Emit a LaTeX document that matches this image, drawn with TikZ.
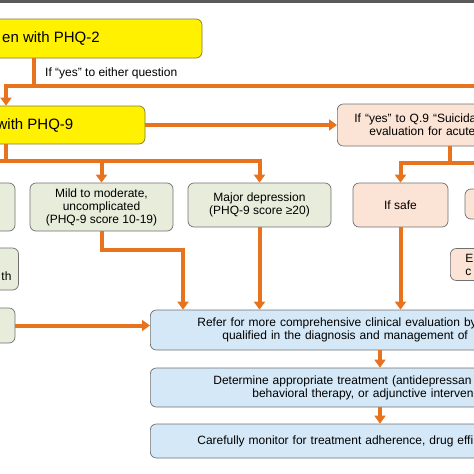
\documentclass[tikz,border=0pt]{standalone}
\usepackage{fontspec}
\setmainfont{Liberation Sans}
\usepackage{xcolor}
\usetikzlibrary{arrows.meta,positioning}

\definecolor{phqorange}{HTML}{E8731E}
\definecolor{phqyellow}{HTML}{FFF100}
\definecolor{phqolive}{HTML}{7D7A3C}
\definecolor{phqgreen}{HTML}{E7EDDA}
\definecolor{phqpink}{HTML}{FBE3D6}
\definecolor{phqblue}{HTML}{D4E8F7}
\definecolor{phqedge}{HTML}{707070}
\definecolor{phqbar}{HTML}{5A5A5A}

\newcommand{\boxfont}{\fontsize{12}{13}\selectfont}
\newcommand{\bigfont}{\fontsize{15}{18}\selectfont}

\begin{document}
\begin{tikzpicture}[
    x=1pt, y=-1pt,
    box/.style={draw=phqedge, line width=0.7pt, rounded corners=6pt, font=\boxfont, inner sep=0pt, align=center},
    yel/.style={box, fill=phqyellow, draw=phqolive, font=\bigfont},
    grn/.style={box, fill=phqgreen},
    pnk/.style={box, fill=phqpink},
    blu/.style={box, fill=phqblue},
    wire/.style={line width=4pt, draw=phqorange},
    conn/.style={wire, -{Triangle[width=11pt,length=8pt]}},
    lbl/.style={font=\boxfont, anchor=west, inner sep=0pt}
]
\useasboundingbox (0,0) rectangle (474,474);
\fill[phqbar] (0,0) rectangle (474,2.5);

% --- Column layout: Left = PHQ screening, Center = severity, Right = Q.9 path ---

% Row 0: PHQ-2 screen
\node[yel, minimum width=302pt, minimum height=39pt] (phqtwo) at (51,38.5) {en with PHQ-2};
\node[lbl] (yeslbl) at (45,73) {If “yes” to either question};

% Row 1: PHQ-9 screen and Q.9 check
\node[yel, minimum width=220pt, minimum height=38pt] (phqnine) at (35,125) {with PHQ-9};
\node[pnk, anchor=west, minimum height=42pt, text width=270pt, align=left, inner xsep=17pt] (suicide) at (337,125)
    {If “yes” to Q.9 “Suicida\\\hspace*{15pt}evaluation for acute};

% Row 2: severity
\node[grn, minimum width=115pt, minimum height=48pt] (lefta) at (-42.5,207) {};
\node[grn, minimum width=143pt, minimum height=48pt] (mild) at (101.5,207)
    {Mild to moderate,\\uncomplicated\\(PHQ-9 score 10-19)};
\node[grn, minimum width=143pt, minimum height=44pt] (major) at (259.5,205)
    {Major depression\\(PHQ-9 score ≥20)};
\node[pnk, minimum width=95pt, minimum height=44pt] (ifsafe) at (400.5,205) {If safe};
\node[pnk, minimum width=100pt, minimum height=30pt] (unsafe) at (515,204) {};

% Row 3
\node[grn, minimum width=115pt, minimum height=42pt, text width=108pt, align=right, inner xsep=7pt] (leftb) at (-42.5,269) {\strut\\th};
\node[pnk, anchor=west, minimum height=32pt, text width=80pt, align=left, inner xsep=15pt] (emerg) at (450,264.5) {E\\c};

% Row 4
\node[grn, minimum width=115pt, minimum height=35pt] (leftc) at (-42.5,325.5) {};

% Rows 5-7: treatment chain
\node[blu, anchor=west, minimum height=40pt, text width=500pt, align=left, inner xsep=47pt] (refer) at (150,330)
    {Refer for more comprehensive clinical evaluation by\\\hspace*{25pt}qualified in the diagnosis and management of};
\node[blu, anchor=west, minimum height=39pt, text width=500pt, align=left, inner xsep=63pt] (determine) at (150,387.5)
    {Determine appropriate treatment (antidepressan\\\hspace*{39pt}behavioral therapy, or adjunctive interven};
\node[blu, anchor=west, minimum height=34pt, text width=500pt, align=left, inner xsep=47pt] (monitor) at (150,441)
    {Carefully monitor for treatment adherence, drug effi};

% === Transitions ===
\coordinate (colA) at (6,0);
\coordinate (splitA) at (34,86);
\coordinate (offA) at (490,86);
\coordinate (splitB) at (6,161);
\coordinate (offB) at (-10,161);
\coordinate (splitC) at (450,163);
\coordinate (offC) at (490,163);
\coordinate (colD) at (183,0);
\coordinate (colE) at (380,0);

% PHQ-2 -> PHQ-9
\draw[wire] (phqtwo.south -| splitA) -- (splitA);
\draw[conn] (offA) -- (splitA -| colA) -- (phqnine.north -| colA);

% PHQ-9 -> Q.9
\draw[conn] (phqnine.east) -- (suicide.west);

% PHQ-9 -> severity
\draw[wire] (phqnine.south -| colA) -- (splitB);
\draw[conn] (offB) -- (splitB -| major.north) -- (major.north);
\draw[conn] (splitB -| mild.north) -- (mild.north);

% Q.9 -> safe
\draw[wire] (suicide.south -| splitC) -- (splitC);
\draw[conn] (offC) -- (splitC -| ifsafe.north) -- (ifsafe.north);

% into referral
\draw[conn] (mild.south) -- ++(0,19) -| (refer.north -| colD);
\draw[conn] (major.south) -- (refer.north -| major.south);
\draw[conn] (ifsafe.south) -- (refer.north -| ifsafe.south);
\draw[conn] (leftc.east) -- (leftc.east -| refer.west);

% treatment chain
\draw[conn] (refer.south -| colE) -- (determine.north -| colE);
\draw[conn] (determine.south -| colE) -- (monitor.north -| colE);

\end{tikzpicture}
\end{document}
